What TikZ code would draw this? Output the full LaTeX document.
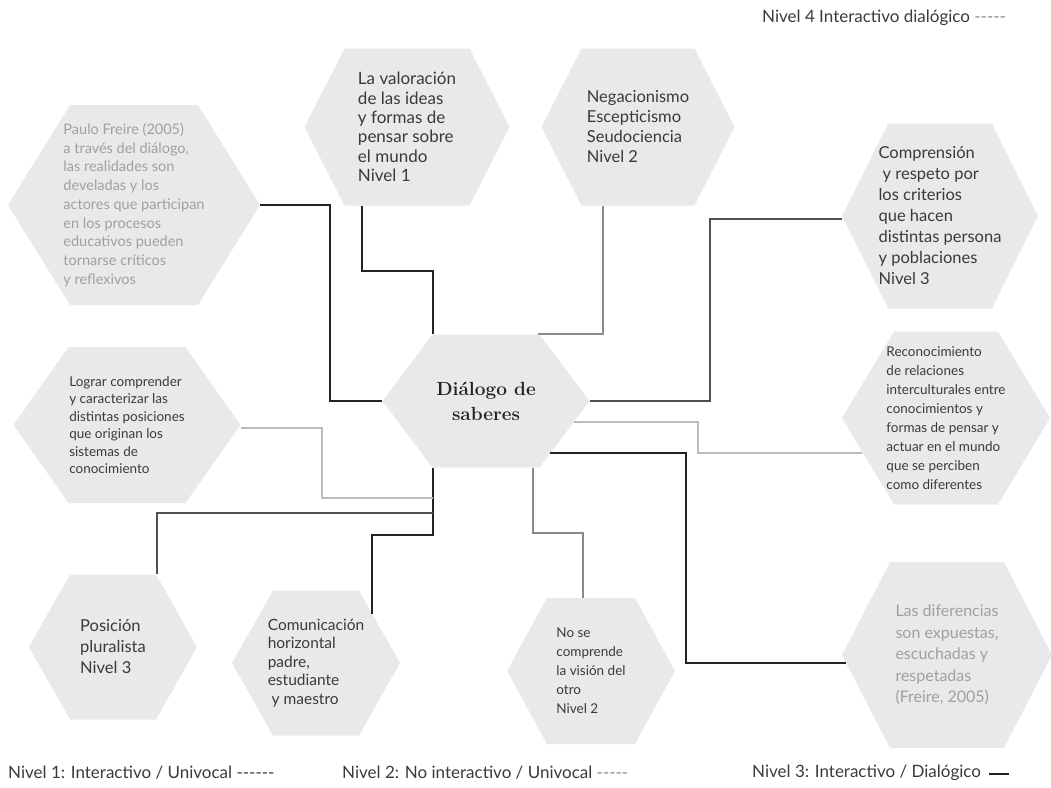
\documentclass[tikz,border=0pt]{standalone}
\usepackage{fontspec}
\usepackage{graphicx}
\setmainfont{Lato}
\newfontfamily\titulofont{Latin Modern Roman}
\usetikzlibrary{calc}

\definecolor{hexgris}{RGB}{233,233,235}
\definecolor{textooscuro}{RGB}{58,58,58}
\definecolor{textoclaro}{RGB}{160,160,160}
\definecolor{lineanegra}{RGB}{35,35,35}
\definecolor{lineaoscura}{RGB}{80,80,80}
\definecolor{lineamedia}{RGB}{138,138,138}
\definecolor{lineaclara}{RGB}{188,188,188}

\tikzset{
	hexa/.style n args={3}{shape=rectangle, minimum width=#1, minimum height=#2, inner sep=0pt, align=left, text=textooscuro,
		path picture={\fill[hexgris] (path picture bounding box.west) -- ([xshift=#3]path picture bounding box.north west) -- ([xshift=-#3]path picture bounding box.north east) -- (path picture bounding box.east) -- ([xshift=-#3]path picture bounding box.south east) -- ([xshift=#3]path picture bounding box.south west) -- cycle;}},
	cita/.style={text=textoclaro},
	negra/.style={draw=lineanegra, line width=2pt},
	oscura/.style={draw=lineaoscura, line width=2pt},
	media/.style={draw=lineamedia, line width=2pt},
	clara/.style={draw=lineaclara, line width=2pt},
	leyenda/.style={anchor=west, inner sep=0pt, text=textooscuro, font=\fontsize{17}{20}\selectfont}
}

\begin{document}
\begin{tikzpicture}[x=1pt,y=-1pt]
	\useasboundingbox (0,0) rectangle (1051,787);

	% hexagonos
	\node[hexa={207pt}{133pt}{50pt}, align=center, font=\titulofont\bfseries\fontsize{19}{25}\selectfont, text=lineanegra] (dialogo) at (486,401) {Diálogo de\\saberes};
	\node[hexa={252pt}{200pt}{62pt}, font=\fontsize{14.5}{18.7}\selectfont, cita] (paulo) at (134,205) {Paulo Freire (2005)\\a través del diálogo,\\las realidades son\\develadas y los\\actores que participan\\en los procesos\\educativos pueden\\tornarse críticos\\y reflexivos};
	\node[hexa={205pt}{157pt}{40pt}, font=\fontsize{17}{19.3}\selectfont] (valoracion) at (407,127) {La valoración\\de las ideas\\y formas de\\pensar sobre\\el mundo\\Nivel 1};
	\node[hexa={193pt}{157pt}{40pt}, font=\fontsize{16.5}{20}\selectfont] (negacion) at (638,127) {Negacionismo\\Escepticismo\\Seudociencia\\Nivel 2};
	\node[hexa={196pt}{185pt}{46pt}, font=\fontsize{16.5}{21}\selectfont] (comprension) at (940,216) {Comprensión\\\hspace{0.25em}y respeto por\\los criterios\\que hacen\\distintas persona\\y poblaciones\\Nivel 3};
	\node[hexa={208pt}{173pt}{52pt}, font=\fontsize{13.5}{18.9}\selectfont] (recon) at (946,418) {Reconocimiento\\de relaciones\\interculturales entre\\conocimientos y\\formas de pensar y\\actuar en el mundo\\que se perciben\\como diferentes};
	\node[hexa={227pt}{156pt}{55pt}, font=\fontsize{13.5}{17.4}\selectfont] (lograr) at (127,425) {Lograr comprender\\y caracterizar las\\distintas posiciones\\que originan los\\sistemas de\\conocimiento};
	\node[hexa={168pt}{145pt}{41pt}, font=\fontsize{16.5}{21}\selectfont] (posicion) at (113,647) {Posición\\pluralista\\Nivel 3};
	\node[hexa={168pt}{145pt}{41pt}, font=\fontsize{15.5}{18.5}\selectfont] (comunic) at (316,663) {Comunicación\\horizontal\\padre,\\estudiante\\\hspace{0.25em}y maestro};
	\node[hexa={168pt}{146pt}{40pt}, font=\fontsize{13.5}{19}\selectfont] (nose) at (591,671) {No se\\comprende\\la visión del\\otro\\Nivel 2};
	\node[hexa={210pt}{186pt}{48pt}, font=\fontsize{16}{21.5}\selectfont, cita] (diferencias) at (947,655) {Las diferencias\\son expuestas,\\escuchadas y\\respetadas\\(Freire, 2005)};

	% conectores
	\draw[negra] (paulo.east) -- ++(70,0) |- (dialogo.west);
	\draw[negra] ([xshift=-45pt]valoracion.south) -- ++(0,65) -| ([xshift=-53pt]dialogo.north);
	\draw[media] ([xshift=-35pt]negacion.south) |- ([xshift=52pt]dialogo.north);
	\draw[oscura] (dialogo.east) -- ++(120,0) |- ([yshift=-3pt]comprension.west);
	\draw[clara] ([xshift=-16pt,yshift=-21pt]dialogo.east) -- ++(124,0) |- ([xshift=20pt,yshift=-35pt]recon.west);
	\draw[negra] ([xshift=-53pt]dialogo.south) -- ++(0,67) -| ([xshift=56pt,yshift=49pt]comunic.center);
	\draw[clara] ([yshift=-3pt]lograr.east) -- ++(81,0) |- ([xshift=-53pt,yshift=-30pt]dialogo.south);
	\draw[oscura] ([xshift=-53pt,yshift=-45pt]dialogo.south) -| ([xshift=44pt]posicion.north);
	\draw[media] ([xshift=47pt]dialogo.south) -- ++(0,65) -| ([xshift=-8pt]nose.north);
	\draw[negra, line width=2.4pt] ([xshift=-40pt,yshift=-52pt]dialogo.east) -- ++(136,0) |- ([xshift=4pt,yshift=-8pt]diferencias.west);

	% leyendas
	\node[leyenda] (nivel4) at (762,18) {Nivel 4 Interactivo dialógico \textcolor{lineamedia}{-{}-{}-{}-{}-}};
	\node[leyenda] (nivel1) at (8,773) {Nivel 1: Interactivo / Univocal -{}-{}-{}-{}-{}-};
	\node[leyenda] (nivel2) at (342,773) {Nivel 2: No interactivo / Univocal \textcolor{lineamedia}{-{}-{}-{}-{}-}};
	\node[leyenda] (nivel3) at (752,773) {Nivel 3: Interactivo / Dialógico\hspace{8pt}\textcolor{lineanegra}{\rule[0.3ex]{20pt}{2.5pt}}};
\end{tikzpicture}
\end{document}
